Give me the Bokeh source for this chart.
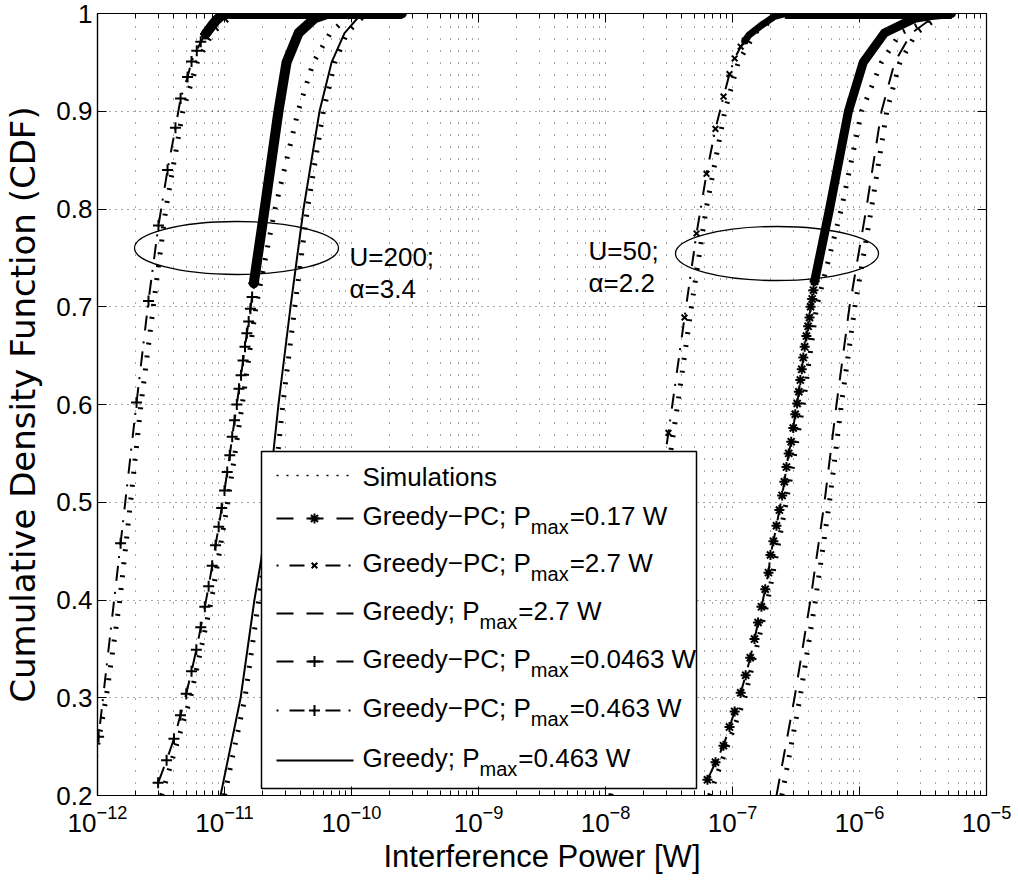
from bokeh.plotting import figure
from bokeh.models import (FixedTicker, LogAxis, LinearAxis, CustomJSTickFormatter,
                          Label, LogTickFormatter, BoxAnnotation)
from bokeh.embed import file_html
from bokeh.resources import INLINE

FONT = "Liberation Sans"

# ------------------------------------------------------------------ data
x_ticks = [1e-12, 1e-11, 1e-10, 1e-9, 1e-8, 1e-7, 1e-6, 1e-5]
y_ticks = [0.2, 0.3, 0.4, 0.5, 0.6, 0.7, 0.8, 0.9, 1.0]

# ---- U=200; alpha=3.4 ----
# Greedy-PC; Pmax=0.463 W   (marker points, then dense upper tail)
a1_mx = [1.02e-12, 1.52e-12, 2.03e-12, 2.52e-12, 3.02e-12, 3.56e-12, 4.11e-12,
         4.51e-12, 5.12e-12, 5.50e-12, 6.05e-12, 6.5e-12, 7.1e-12]
a1_my = [0.260, 0.458, 0.602, 0.706, 0.783, 0.840, 0.883, 0.913, 0.935, 0.951,
         0.962, 0.971, 0.979]
a1_tx = [7.1e-12, 8.0e-12, 8.6e-12, 9.5e-12, 1.1e-11, 2.48e-10]
a1_ty = [0.979, 0.988, 0.993, 0.998, 1.0, 1.0]

# Greedy-PC; Pmax=0.0463 W
a2_mx = [3.0e-12, 3.5e-12, 4.0e-12, 4.5e-12, 5.0e-12, 5.5e-12, 6.0e-12, 6.5e-12,
         7.0e-12, 7.5e-12, 8.0e-12, 8.5e-12, 9.0e-12, 9.5e-12, 1.0e-11, 1.05e-11,
         1.1e-11, 1.15e-11, 1.2e-11, 1.25e-11, 1.3e-11, 1.35e-11, 1.4e-11, 1.45e-11,
         1.5e-11, 1.55e-11, 1.6e-11, 1.65e-11, 1.7e-11]
a2_my = [0.213, 0.236, 0.258, 0.282, 0.304, 0.327, 0.349, 0.372, 0.393, 0.414,
         0.435, 0.456, 0.475, 0.494, 0.512, 0.531, 0.548, 0.567, 0.584, 0.600,
         0.616, 0.630, 0.645, 0.659, 0.673, 0.685, 0.698, 0.710, 0.724]
a2_tx = [1.7e-11, 2.07e-11, 2.66e-11, 3.08e-11, 3.83e-11, 5.12e-11, 6.6e-11, 2.48e-10]
a2_ty = [0.724, 0.80, 0.90, 0.95, 0.98, 0.995, 1.0, 1.0]

# Greedy; Pmax=0.463 W
a3_x = [9.31e-12, 1.34e-11, 1.72e-11, 1.95e-11, 2.43e-11, 2.66e-11, 3.31e-11,
        4.19e-11, 5.60e-11, 6.97e-11, 8.81e-11, 1.20e-10, 2.48e-10]
a3_y = [0.20, 0.30, 0.40, 0.442, 0.552, 0.60, 0.70, 0.80, 0.90, 0.95, 0.98, 1.0, 1.0]

# ---- U=50; alpha=2.2 ----
# Greedy-PC; Pmax=2.7 W
b1_mx = [1.04e-8, 2.08e-8, 3.13e-8, 4.19e-8, 5.21e-8, 6.24e-8, 7.34e-8, 8.50e-8,
         9.47e-8, 1.04e-7, 1.16e-7, 1.25e-7]
b1_my = [0.22, 0.42, 0.571, 0.689, 0.775, 0.836, 0.882, 0.915, 0.938, 0.954, 0.966, 0.972]
b1_tx = [1.25e-7, 1.35e-7, 1.69e-7, 2.14e-7, 2.6e-7, 5.3e-6]
b1_ty = [0.972, 0.978, 0.988, 0.997, 1.0, 1.0]

# Greedy-PC; Pmax=0.17 W
b2_mx = [6.35e-8, 7.35e-8, 8.49e-8, 9.47e-8, 1.04e-7, 1.16e-7, 1.27e-7, 1.38e-7,
         1.49e-7, 1.59e-7, 1.69e-7, 1.81e-7, 1.92e-7, 1.99e-7, 2.10e-7, 2.22e-7,
         2.34e-7, 2.46e-7, 2.56e-7, 2.66e-7, 2.77e-7, 2.90e-7, 3.01e-7, 3.12e-7,
         3.23e-7, 3.33e-7, 3.42e-7, 3.51e-7, 3.61e-7, 3.70e-7, 3.82e-7, 3.94e-7,
         4.04e-7, 4.12e-7, 4.24e-7, 4.34e-7, 4.43e-7]
b2_my = [0.216, 0.234, 0.251, 0.270, 0.286, 0.305, 0.323, 0.341, 0.360, 0.377,
         0.393, 0.411, 0.428, 0.446, 0.460, 0.476, 0.492, 0.507, 0.521, 0.536,
         0.550, 0.562, 0.576, 0.590, 0.601, 0.613, 0.625, 0.636, 0.648, 0.659,
         0.670, 0.680, 0.689, 0.700, 0.708, 0.717, 0.726]
b2_tx = [4.43e-7, 5.81e-7, 8.18e-7, 1.07e-6, 1.57e-6, 2.71e-6, 3.69e-6, 5.3e-6]
b2_ty = [0.726, 0.80, 0.90, 0.95, 0.98, 0.995, 0.998, 1.0]

# Greedy; Pmax=2.7 W
b3_x = [2.22e-7, 3.08e-7, 4.11e-7, 5.30e-7, 6.59e-7, 8.34e-7, 1.13e-6, 1.49e-6,
        1.89e-6, 2.57e-6, 4.19e-6, 5.3e-6]
b3_y = [0.20, 0.30, 0.40, 0.50, 0.60, 0.70, 0.80, 0.90, 0.95, 0.98, 1.0, 1.0]

# ---- Simulations (empirical CDFs) ----
sim_y = [0.2, 0.3, 0.4, 0.5, 0.6, 0.7, 0.8, 0.9, 0.95, 0.98, 1.0]
sim_a1_x = [0.85e-12, 1.17e-12, 1.50e-12, 1.82e-12, 2.2e-12, 2.75e-12, 3.45e-12, 4.7e-12, 6.1e-12, 8.0e-12, 1.2e-11]
sim_a2_x = [3.2e-12, 5.4e-12, 7.9e-12, 1.06e-11, 1.38e-11, 1.77e-11, 2.5e-11, 3.8e-11, 5.0e-11, 6.8e-11, 1.0e-10]
sim_a3_x = [1.0e-11, 1.45e-11, 1.86e-11, 2.4e-11, 2.88e-11, 3.58e-11, 4.5e-11, 6.0e-11, 7.4e-11, 9.2e-11, 1.3e-10]
sim_b1_x = [1.1e-8, 1.65e-8, 2.2e-8, 2.85e-8, 3.7e-8, 4.75e-8, 6.2e-8, 8.7e-8, 1.11e-7, 1.5e-7, 2.4e-7]
sim_b2_x = [6.6e-8, 1.25e-7, 1.9e-7, 2.65e-7, 3.6e-7, 4.6e-7, 7.2e-7, 1.04e-6, 1.49e-6, 2.1e-6, 4.5e-6]
sim_b3_x = [2.45e-7, 3.4e-7, 4.5e-7, 5.8e-7, 7.2e-7, 9.2e-7, 1.24e-6, 1.64e-6, 2.08e-6, 2.8e-6, 4.6e-6]

# ---- texts ----
legend_main = ["Simulations", "Greedy\u2212PC; P", "Greedy\u2212PC; P", "Greedy; P",
               "Greedy\u2212PC; P", "Greedy\u2212PC; P", "Greedy; P"]
legend_sub = ["", "max", "max", "max", "max", "max", "max"]
legend_tail = ["", "=0.17 W", "=2.7 W", "=2.7 W", "=0.0463 W", "=0.463 W", "=0.463 W"]
ann_lines = [["U=200;", "\u03b1=3.4"], ["U=50;", "\u03b1=2.2"]]
x_label = "Interference Power [W]"
y_label = "Cumulative Density Function (CDF)"

# ------------------------------------------------------------------ layout / style
FW, FH = 889, 782
DASHED = "17 13"
DASHDOT = "2 11 15 8"
K = "black"
LEG_FS, SUB_FS = 26, 20
LDY = -8   # vertical correction of label baselines (frame px)


def fx(px):  # frame pixel -> data x (log axis)
    return 10 ** (-12 + 7.0 * px / FW)


def fy(py):  # frame pixel (from top) -> data y
    return 1.0 - 0.8 * py / FH


p = figure(x_axis_type="log", x_range=(1e-12, 1e-5), y_range=(0.2, 1.0),
           frame_width=FW, frame_height=FH, output_backend="svg", toolbar_location=None,
           min_border_left=85, min_border_right=25, min_border_top=13, min_border_bottom=74,
           background_fill_color="white", border_fill_color="white")
p.outline_line_color = K
p.outline_line_width = 1.2

x_minor = [m * t for t in x_ticks[:-1] for m in range(2, 10)]
xticker = FixedTicker(ticks=x_ticks, minor_ticks=x_minor)
yticker = FixedTicker(ticks=y_ticks, minor_ticks=[])

xa = p.xaxis[0]
xa.ticker = xticker
xa.formatter = LogTickFormatter()
ya = p.yaxis[0]
ya.ticker = yticker
ya.formatter = CustomJSTickFormatter(code="return Math.abs(tick-1)<1e-9 ? '1' : tick.toFixed(1);")

for ax in (xa, ya):
    ax.axis_line_color = K
    ax.axis_line_width = 1.2
    ax.major_tick_line_color = K
    ax.minor_tick_line_color = K
    ax.major_tick_in = 9
    ax.major_tick_out = 0
    ax.minor_tick_in = 5
    ax.minor_tick_out = 0
    ax.major_label_text_font = FONT
    ax.major_label_text_font_size = "26px"
    ax.major_label_text_color = K
    ax.axis_label_text_font = FONT
    ax.axis_label_text_font_style = "normal"
    ax.axis_label_text_color = K
xa.axis_label = x_label
ya.axis_label = y_label
xa.axis_label_text_font_size = "31px"
ya.axis_label_text_font = "DejaVu Sans"
ya.axis_label_text_font_size = "34px"
xa.major_label_standoff = 9
xa.axis_label_standoff = 4
ya.major_label_standoff = 5
ya.axis_label_standoff = 10

blank = CustomJSTickFormatter(code="return ' ';")
top = LogAxis(ticker=xticker, formatter=blank, major_label_text_font_size="2px",
              major_label_text_alpha=0, major_label_standoff=0,
              major_tick_in=9, major_tick_out=0, minor_tick_in=5, minor_tick_out=0,
              axis_line_color=K, major_tick_line_color=K, minor_tick_line_color=K)
right = LinearAxis(ticker=yticker, formatter=blank, major_label_text_font_size="2px",
                   major_label_text_alpha=0, major_label_standoff=0,
                   major_tick_in=9, major_tick_out=0, minor_tick_in=0, minor_tick_out=0,
                   axis_line_color=K, major_tick_line_color=K)
p.add_layout(top, "above")
p.add_layout(right, "right")

p.xgrid[0].ticker = xticker
p.xgrid.grid_line_color = K
p.xgrid.grid_line_dash = "1 11"
p.xgrid.grid_line_alpha = 0.7
p.xgrid.minor_grid_line_color = K
p.xgrid.minor_grid_line_dash = "1 11"
p.xgrid.minor_grid_line_alpha = 0.7
p.ygrid[0].ticker = yticker
p.ygrid.grid_line_color = K
p.ygrid.grid_line_dash = "1 5"
p.ygrid.grid_line_alpha = 0.7

# ------------------------------------------------------------------ curves
# simulations: dotted staircase look (short bars)
for sx in (sim_a1_x, sim_a2_x, sim_a3_x, sim_b1_x, sim_b2_x, sim_b3_x):
    p.line(sx, sim_y, line_color=K, line_width=5, line_dash="2 11", line_cap="butt")

MK = {"cross": 11, "x": 8, "asterisk": 10}


def dense_curve(mx, my, tx, ty, dash, marker, band):
    p.line(mx + tx[1:], my + ty[1:], line_color=K, line_width=2, line_dash=dash)
    p.scatter(mx, my, marker=marker, size=MK[marker], line_color=K, line_width=2)
    p.line(tx, ty, line_color=K, line_width=band, line_join="round", line_cap="round")


p.line(a3_x, a3_y, line_color=K, line_width=2)
p.line(b3_x, b3_y, line_color=K, line_width=2, line_dash=DASHED)
dense_curve(a1_mx, a1_my, a1_tx, a1_ty, DASHDOT, "cross", 10)
dense_curve(a2_mx, a2_my, a2_tx, a2_ty, DASHED, "cross", 10)
dense_curve(b1_mx, b1_my, b1_tx, b1_ty, DASHDOT, "x", 7)
dense_curve(b2_mx, b2_my, b2_tx, b2_ty, DASHED, "asterisk", 9)

# the dense markers along CDF=1 spill over the top edge of the axes (as in the original)
half = 0.8 * 5 / FH
for tx in (a1_tx, b1_tx):
    p.add_layout(BoxAnnotation(left=tx[-2], right=tx[-1], bottom=1.0 - half, top=1.0 + half,
                               fill_color=K, fill_alpha=1.0, line_color=K, line_alpha=1.0))

# ellipses marking the two groups
ell_x = [fx(139), fx(679.5)]
ell_y = [fy(234.5), fy(240)]
p.ellipse(x=ell_x, y=ell_y, width=[204, 203], height=[53, 54], width_units="screen",
          height_units="screen", fill_color=None, line_color=K, line_width=1.3)

ann_pos = [(252, 251, 283), (491, 245, 277)]
for (lx, b1, b2), lines in zip(ann_pos, ann_lines):
    for b, t in zip((b1, b2), lines):
        p.add_layout(Label(x=fx(lx), y=fy(b + LDY), text=t, text_font=FONT, text_font_size="26px",
                           text_color=K, text_baseline="alphabetic", text_align="left"))

# ------------------------------------------------------------------ legend (manual, MATLAB style)
AW = {'G': 778, 'r': 333, 'e': 556, 'd': 556, 'y': 500, '\u2212': 584, 'P': 667, 'C': 722,
      ';': 278, ' ': 278, 'm': 833, 'a': 556, 'x': 500, '=': 584, '.': 278, 'W': 944}
for dch in "0123456789":
    AW[dch] = 556


def tw(s, size):
    return sum(AW.get(c, 556) for c in s) / 1000.0 * size


L, T, R, B = 164, 438, 599, 775
p.quad(left=[fx(L)], right=[fx(R)], top=[fy(T)], bottom=[fy(B)], fill_color="white",
       line_color=K, line_width=1.5)
rows = [462, 505, 552, 600, 648, 697, 747]
styles = [("2 8", None, 1.5), (DASHED, "asterisk", 2), (DASHDOT, "x", 2), (DASHED, None, 2),
          (DASHED, "cross", 2), (DASHDOT, "cross", 2), ("solid", None, 2)]
for i, (ry, (dash, mk, lw)) in enumerate(zip(rows, styles)):
    p.line([fx(179), fx(256)], [fy(ry), fy(ry)], line_color=K, line_width=lw, line_dash=dash)
    if mk:
        p.scatter([fx(217)], [fy(ry)], marker=mk, size=MK[mk], line_color=K, line_width=2)
    base = ry + (9 if i == 0 else 5) + LDY
    x0 = 265
    p.add_layout(Label(x=fx(x0), y=fy(base), text=legend_main[i], text_font=FONT,
                       text_font_size=f"{LEG_FS}px", text_color=K, text_baseline="alphabetic"))
    if legend_sub[i]:
        x1 = x0 + tw(legend_main[i], LEG_FS)
        p.add_layout(Label(x=fx(x1), y=fy(base + 11), text=legend_sub[i], text_font=FONT,
                           text_font_size=f"{SUB_FS}px", text_color=K, text_baseline="alphabetic"))
        x2 = x1 + tw(legend_sub[i], SUB_FS) + 1
        p.add_layout(Label(x=fx(x2), y=fy(base), text=legend_tail[i], text_font=FONT,
                           text_font_size=f"{LEG_FS}px", text_color=K, text_baseline="alphabetic"))

open("out.html", "w").write(file_html(p, INLINE))
